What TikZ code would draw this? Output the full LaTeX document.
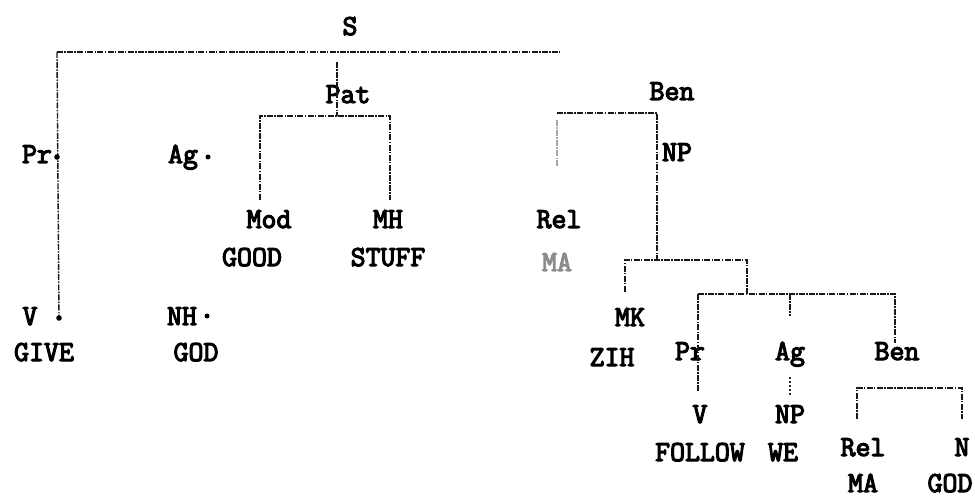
\documentclass[tikz,border=0pt]{standalone}
\usepackage{fontspec}
\newfontfamily\typewriter[FakeBold=4]{Latin Modern Mono}
\usetikzlibrary{positioning}

\begin{document}
\begin{tikzpicture}[x=1pt,y=-1pt,on grid,node distance=36pt,
    every node/.style={font=\typewriter\fontsize{29}{29}\selectfont,
      inner sep=1pt,text height=16pt,text depth=0pt},
    branch/.style={draw=black!90,line width=1.4pt,
      dash pattern=on 6pt off 1.3pt on 1.5pt off 1.3pt},
    faint/.style={branch,draw=black!35},
    dots/.style={draw=black!85,line width=1.4pt,dash pattern=on 1.5pt off 2.5pt}]
\useasboundingbox (0,0) rectangle (975,497);
% Here is where we put each label of the tree
   \node (S)      at (350,27)  {S};
   \node (Pr_1)   at (37,155)  {Pr};
   \node (Ag_1)   at (183,155) {Ag};
   \node (Pat)    at (348,95)  {Pat};
   \node (Ben_1)  at (672,92)  {Ben};
   \node (V_1)    at (30,317)  {V};
   \node (GIVE)   at (44,353)  {GIVE};
   \node (NH)     at (182,317) {NH};
   \node (GOD_1)  at (196,353) {GOD};
   \node (Mod)    at (269,220) {Mod};
   \node (GOOD)   at (252,258) {GOOD};
   \node (MH)     at (388,220) {MH};
   \node (STUFF)  at (388,258) {STUFF};
   \node (NP_1)   at (677,153) {NP};
   \node (Rel_1)  at (559,220) {Rel};
   \node[text=black!45] (MA_1) at (557,263) {MA};
   \node (MK)     at (630,318) {MK};
   \node (ZIH)    at (612,358) {ZIH};
   \node (Pr_2)   at (690,352) {Pr};
   \node (Ag_2)   at (790,352) {Ag};
   \node (Ben_2)  at (897,352) {Ben};
   \node (V_2)    at (700,415) {V};
   \node (NP_2)   at (790,415) {NP};
   \node (FOLLOW) at (700,453) {FOLLOW};
   \node (WE)     at (783,453) {WE};
   \node (Rel_2)  at (863,448) {Rel};
   \node (N)      at (962,448) {N};
   \node (MA_2)   [below=of Rel_2] {MA};
   \node (GOD_2)  at (950,484) {GOD};
% Here is where the bars of each bracket meet
   \coordinate (S_l)    at (57,52);
   \coordinate (S_r)    at (560,52);
   \coordinate (Pr_dot) at (57,157);
   \coordinate (V_dot)  at (59,318);
   \coordinate (Ag_dot) at (208,157);
   \coordinate (NH_dot) at (207,316);
   \coordinate (Pat_t)  at (337,62);
   \coordinate (Pat_l)  at (260,116);
   \coordinate (Pat_r)  at (390,116);
   \coordinate (Ben_l)  at (557,113);
   \coordinate (Ben_r)  at (657,113);
   \coordinate (NP_l)   at (625,260);
   \coordinate (NP_r)   at (747,260);
   \coordinate (S2_l)   at (698,294);
   \coordinate (S2_r)   at (895,294);
   \coordinate (Ben2_l) at (857,388);
   \coordinate (Ben2_r) at (962,388);
% Here is where we draw the branches
   \draw[branch] (S_l) -- (S_r);
   \draw[branch] (S_l) -- (V_dot);
   \fill (Pr_dot) circle (2.8) (V_dot) circle (2.8)
         (Ag_dot) circle (2.5) (NH_dot) circle (2.5);
   \draw[branch] (Pat_t) -- (Pat_t |- Pat_l);
   \draw[branch,shorten <=11pt,shorten >=11pt]
      (Pat_l |- Mod.north) -- (Pat_l) -- (Pat_r) -- (Pat_r |- MH.north);
   \draw[branch] (Ben_l) -- (Ben_r) -- (Ben_r |- NP_l);
   \draw[faint,shorten <=7pt,shorten >=44pt] (Ben_l) -- (Ben_l |- Rel_1.north);
   \draw[branch,shorten <=17pt] (NP_l |- MK.north) -- (NP_l) -- (NP_r) -- (NP_r |- S2_l);
   \draw[branch] (S2_l) -- (S2_r) -- (S2_r |- Ben_2.north);
   \draw[branch,shorten >=14pt] (S2_l) -- (S2_l |- V_2.north);
   \draw[branch] (Ag_2 |- S2_l) -- ([yshift=27pt]Ag_2.north);
   \draw[dots,shorten <=16pt,shorten >=10pt] (Ag_2.south) -- (NP_2.north);
   \draw[branch,shorten <=20pt,shorten >=20pt]
      (Ben2_l |- Rel_2.north) -- (Ben2_l) -- (Ben2_r) -- (Ben2_r |- N.north);
\end{tikzpicture}
\end{document}
